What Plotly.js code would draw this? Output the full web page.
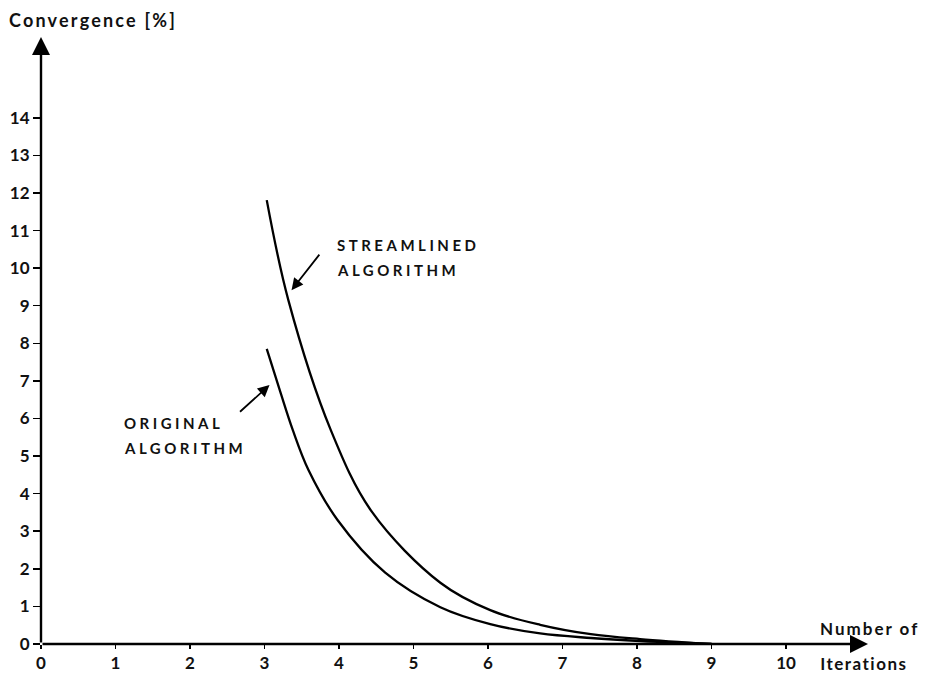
<!DOCTYPE html>
<html><head><meta charset="utf-8">
<script src="https://cdn.plot.ly/plotly-3.0.1.min.js"></script>
<style>html,body{margin:0;padding:0;background:#fff}</style>
</head><body><div id="chart" style="width:932px;height:674px"></div>
<script>
// Data
const streamlinedX = [3.03, 3.32, 3.89, 4.44, 5.36, 6.03, 6.70, 7.38, 8.04, 9.0];
const streamlinedY = [11.81, 9.15, 5.69, 3.52, 1.63, 0.90, 0.51, 0.26, 0.13, 0.0];
const originalX = [3.03, 3.21, 3.38, 3.59, 3.98, 4.62, 5.36, 6.03, 6.70, 7.38, 8.04, 9.0];
const originalY = [7.85, 6.72, 5.69, 4.63, 3.30, 1.90, 0.98, 0.53, 0.28, 0.16, 0.08, 0.0];
const xTickVals = [0, 1, 2, 3, 4, 5, 6, 7, 8, 9, 10];
const xTickText = ['0', '1', '2', '3', '4', '5', '6', '7', '8', '9', '10'];
const yTickVals = [0, 1, 2, 3, 4, 5, 6, 7, 8, 9, 10, 11, 12, 13, 14];
const yTickText = ['0', '1', '2', '3', '4', '5', '6', '7', '8', '9', '10', '11', '12', '13', '14'];
const yTitle = 'Convergence [%]';
const xTitleTop = 'Number of';
const xTitleBottom = 'Iterations';
const streamLabel = ['STREAMLINED', 'ALGORITHM'];
const origLabel = ['ORIGINAL', 'ALGORITHM'];

const XMAX = 11.1, YMAX = 16.15;
const ML = 41, MR = 64, MT = 37, MB = 30, PW = 932 - ML - MR, PH = 674 - MT - MB;
const px2paperX = function (p) { return (p - ML) / PW; };
const px2paperY = function (p) { return (674 - MB - p) / PH; };
const tickFont = {family: 'Lato', size: 17, color: '#111', weight: 700};
const labelFont = {family: 'Lato', size: 15, color: '#111', weight: 700};

const traces = [
  {x: streamlinedX, y: streamlinedY, mode: 'lines', line: {color: '#000', width: 2.3, shape: 'spline', smoothing: 1}, hoverinfo: 'skip', name: 'Streamlined'},
  {x: originalX, y: originalY, mode: 'lines', line: {color: '#000', width: 2.3, shape: 'spline', smoothing: 1}, hoverinfo: 'skip', name: 'Original'}
];

const annotations = [
  // axis arrows
  {x: XMAX, y: 0, ax: 0, ay: 0, axref: 'x', ayref: 'y', xref: 'x', yref: 'y', text: '', showarrow: true, arrowhead: 2, arrowsize: 1.5, arrowwidth: 2.4, arrowcolor: '#000'},
  {x: 0, y: YMAX, ax: 0, ay: 0, axref: 'x', ayref: 'y', xref: 'x', yref: 'y', text: '', showarrow: true, arrowhead: 2, arrowsize: 1.5, arrowwidth: 2.4, arrowcolor: '#000'},
  // titles
  {xref: 'paper', yref: 'paper', x: px2paperX(7), y: px2paperY(20), text: yTitle, showarrow: false, xanchor: 'left', yanchor: 'middle', font: {family: 'Lato', size: 18, color: '#111', weight: 700}, _ls: 2.2},
  {xref: 'paper', yref: 'paper', x: px2paperX(818), y: px2paperY(628), text: xTitleTop, showarrow: false, xanchor: 'left', yanchor: 'middle', font: tickFont, _ls: 2.0},
  {xref: 'paper', yref: 'paper', x: px2paperX(818), y: px2paperY(663), text: xTitleBottom, showarrow: false, xanchor: 'left', yanchor: 'middle', font: tickFont, _ls: 1.5},
  // curve labels
  {xref: 'paper', yref: 'paper', x: px2paperX(335), y: px2paperY(245), text: streamLabel[0], showarrow: false, xanchor: 'left', yanchor: 'middle', font: labelFont, _ls: 3.5},
  {xref: 'paper', yref: 'paper', x: px2paperX(335), y: px2paperY(270), text: streamLabel[1], showarrow: false, xanchor: 'left', yanchor: 'middle', font: labelFont, _ls: 3.5},
  {xref: 'paper', yref: 'paper', x: px2paperX(122), y: px2paperY(423), text: origLabel[0], showarrow: false, xanchor: 'left', yanchor: 'middle', font: labelFont, _ls: 3.5},
  {xref: 'paper', yref: 'paper', x: px2paperX(122), y: px2paperY(448), text: origLabel[1], showarrow: false, xanchor: 'left', yanchor: 'middle', font: labelFont, _ls: 3.5},
  // pointer arrows
  {xref: 'x', yref: 'y', x: (291-40.5)/74.5, y: (644-290)/37.6, ax: 29, ay: -37, text: '', showarrow: true, arrowhead: 2, arrowsize: 1.3, arrowwidth: 1.8, arrowcolor: '#000'},
  {xref: 'x', yref: 'y', x: (269-40.5)/74.5, y: (644-385)/37.6, ax: -31, ay: 28, text: '', showarrow: true, arrowhead: 2, arrowsize: 1.3, arrowwidth: 1.8, arrowcolor: '#000'}
];
const spacing = {};
annotations.forEach(function (a) { if (a._ls) { spacing[a.text] = a._ls; delete a._ls; } });

const layout = {
  width: 932, height: 674,
  margin: {l: ML, r: MR, t: MT, b: MB},
  paper_bgcolor: '#fff', plot_bgcolor: '#fff',
  showlegend: false,
  xaxis: {range: [0, XMAX], tickvals: xTickVals, ticktext: xTickText, ticks: 'outside', ticklen: 4, tickwidth: 1.5, tickcolor: '#000',
          showgrid: false, zeroline: false, showline: false, tickfont: tickFont, fixedrange: true},
  yaxis: {range: [0, YMAX], tickvals: yTickVals, ticktext: yTickText, ticks: 'outside', ticklen: 7, tickwidth: 1.5, tickcolor: '#000',
          showgrid: false, zeroline: false, showline: false, tickfont: tickFont, fixedrange: true},
  annotations: annotations
};

Plotly.newPlot('chart', traces, layout, {staticPlot: true}).then(function () {
  document.querySelectorAll('.annotation-text').forEach(function (el) {
    const t = el.textContent;
    const s = spacing[t];
    if (s) {
      el.setAttribute('letter-spacing', s + 'px');
      const x0 = parseFloat(el.getAttribute('x')) || 0;
      el.setAttribute('x', x0 + t.length * s / 2);
    }
  });
});
</script>
</body></html>
